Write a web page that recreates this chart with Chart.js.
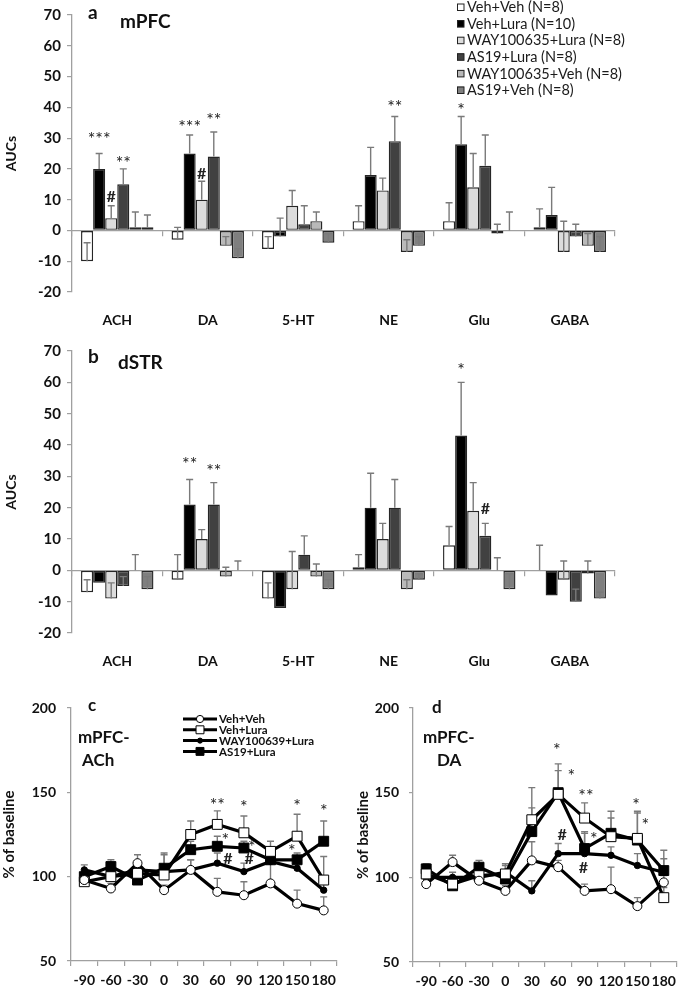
<!DOCTYPE html>
<html>
<head>
<meta charset="utf-8">
<script src="https://cdn.jsdelivr.net/npm/chart.js@4.4.1/dist/chart.umd.min.js"></script>
<style>
  body { margin: 0; background: #fff; }
  #wrap { position: relative; width: 685px; height: 988px; overflow: hidden; }
  canvas { position: absolute; }
  .lbl { position: absolute; font-family: Lato, sans-serif; font-weight: bold; color: #111; white-space: nowrap; line-height: 1; }
</style>
</head>
<body>
<div id="wrap">
  <canvas id="chartA" width="685" height="330" style="left:0;top:0"></canvas>
  <canvas id="chartB" width="685" height="335" style="left:0;top:335px"></canvas>
  <canvas id="chartC" width="345" height="308" style="left:0;top:680px"></canvas>
  <canvas id="chartD" width="340" height="308" style="left:345px;top:680px"></canvas>

  <div class="lbl" style="left:88px;top:2px;font-size:19px">a</div>
  <div class="lbl" style="left:120px;top:11px;font-size:19px">mPFC</div>
  <div class="lbl" style="left:88px;top:346px;font-size:19px">b</div>
  <div class="lbl" style="left:118px;top:352px;font-size:19px">dSTR</div>
  <div class="lbl" style="left:88px;top:696px;font-size:17px">c</div>
  <div class="lbl" style="left:78px;top:728px;font-size:17px">mPFC-</div>
  <div class="lbl" style="left:82px;top:751px;font-size:17px">ACh</div>
  <div class="lbl" style="left:432px;top:698px;font-size:17px">d</div>
  <div class="lbl" style="left:423px;top:728px;font-size:17px">mPFC-</div>
  <div class="lbl" style="left:437px;top:751px;font-size:17px">DA</div>
</div>
<script>
// ---- panel a / b : AUCs per transmitter ----
const transmitters = ['ACH', 'DA', '5-HT', 'NE', 'Glu', 'GABA'];
const groups = ['Veh+Veh (N=8)', 'Veh+Lura (N=10)', 'WAY100635+Lura (N=8)', 'AS19+Lura (N=8)', 'WAY100635+Veh (N=8)', 'AS19+Veh (N=8)'];
const barColors = ['#ffffff', '#000000', '#dcdcdc', '#414141', '#b9b9b9', '#7f7f7f'];

const mpfcAuc = [
  [-10, -3, -6, 3, 3, 1],
  [20, 25, -2, 18, 28, 5],
  [4, 10, 8, 13, 14, -7],
  [15, 24, 2, 29, 21, -2],
  [1, -5, 3, -7, -1, -5],
  [1, -9, -4, -5, 0, -7]
];
const mpfcErr = [
  [6, 4, 4, 5, 6, 6],
  [5, 6, 6, 9, 9, 9],
  [4, 6, 5, 4, 11, 10],
  [5, 8, 6, 8, 10, 4],
  [5, 3, 3, 4, 3, 4],
  [4, 3, 3, 3, 6, 5]
];
// [group, transmitter, y, text]
const mpfcMarks = [
  [1, 0, 31, '***'], [2, 0, 11, '#'], [3, 0, 23, '**'],
  [1, 1, 35, '***'], [2, 1, 18.5, '#'], [3, 1, 37, '**'],
  [3, 3, 41.5, '**'], [1, 4, 40.5, '*']
];

const dstrAuc = [
  [-7, -3, -9, 1, 8, 0],
  [-4, 21, -12, 20, 43, -8],
  [-9, 10, -6, 10, 19, -3],
  [-5, 21, 5, 20, 11, -10],
  [0, -2, -2, -6, 0, -1],
  [-6, 0, -6, -3, -6, -9]
];
const dstrErr = [
  [4, 8, 5, 4, 6, 8],
  [0, 8, 0, 11, 17, 0],
  [5, 3, 12, 5, 9, 6],
  [3, 7, 6, 9, 4, 4],
  [5, 3, 4, 3, 4, 4],
  [4, 3, 3, 2, 5, 2]
];
const dstrMarks = [
  [1, 1, 35, '**'], [3, 1, 33, '**'],
  [1, 4, 65, '*'], [3, 4, 19.5, '#']
];

// ---- panel c / d : time course, % of baseline ----
const timeLabels = ['-90', '-60', '-30', '0', '30', '60', '90', '120', '150', '180'];
const lineGroups = ['Veh+Veh', 'Veh+Lura', 'WAY100639+Lura', 'AS19+Lura'];

const achMean = [
  [98, 93, 108, 92, 104, 91, 89, 96, 84, 80],
  [97, 100, 102, 101, 125, 131, 126, 115, 124, 98],
  [104, 100, 104, 103, 104, 108, 103, 109, 105, 92],
  [100, 106, 98, 105, 116, 118, 117, 110, 110, 121]
];
const achErr = [
  [3, 3, 5, 3, 6, 8, 8, 14, 8, 8],
  [4, 4, 4, 13, 8, 8, 10, 6, 13, 14],
  [3, 3, 3, 3, 6, 6, 5, 3, 4, 4],
  [3, 4, 4, 8, 5, 6, 4, 4, 4, 12]
];
// [x position in category units, y, text]
const achMarks = [
  [5, 144.5, '**'], [6, 143.5, '*'], [8, 144, '*'], [9, 141, '*'],
  [5.3, 124, '*'], [6.3, 120, '*'], [7.8, 117.5, '*'],
  [5.4, 110.5, '#'], [6.2, 110.5, '#']
];

const daMean = [
  [96, 109, 98, 92, 110, 106, 92, 93, 83, 97],
  [102, 96, 101, 102, 134, 149, 135, 124, 123, 88],
  [100, 100, 100, 103, 92, 114, 114, 113, 107, 103],
  [105, 95, 106, 99, 127, 150, 117, 126, 122, 104]
];
const daErr = [
  [3, 4, 3, 3, 11, 4, 4, 13, 5, 4],
  [3, 3, 3, 5, 19, 14, 9, 11, 16, 6],
  [3, 3, 3, 5, 6, 6, 12, 5, 7, 8],
  [3, 3, 4, 4, 14, 17, 10, 13, 16, 12]
];
const daMarks = [
  [4.95, 177.5, '*'], [5.5, 162, '*'], [6.05, 150, '**'], [6.35, 125, '*'],
  [5.15, 125, '#'], [5.95, 105.5, '#'], [7.95, 145, '*'], [8.3, 133, '*']
];

Chart.defaults.font.family = 'Lato, sans-serif';
Chart.defaults.color = '#111';

const AXIS = '#a0a0a0';

// error whiskers, drawn upward only like the original figure
const errorBars = {
  id: 'errorBars',
  draw(chart) {
    const ctx = chart.ctx, ys = chart.scales.y;
    ctx.save();
    ctx.strokeStyle = '#7a7a7a';
    ctx.lineWidth = 1.4;
    chart.data.datasets.forEach((ds, di) => {
      if (!ds.errors) return;
      chart.getDatasetMeta(di).data.forEach((el, i) => {
        const e = ds.errors[i];
        if (!e) return;
        const y0 = ys.getPixelForValue(ds.data[i]);
        const y1 = ys.getPixelForValue(ds.data[i] + e);
        ctx.beginPath();
        ctx.moveTo(el.x, y0); ctx.lineTo(el.x, y1);
        ctx.moveTo(el.x - 3.5, y1); ctx.lineTo(el.x + 3.5, y1);
        ctx.stroke();
      });
    });
    ctx.restore();
  },
  beforeDatasetsDraw(chart, args, o) { if (!o.front) this.draw(chart); },
  afterDatasetsDraw(chart, args, o) { if (o.front) this.draw(chart); }
};

// significance marks (* and #)
const sigMarks = {
  id: 'sigMarks',
  afterDatasetsDraw(chart, args, o) {
    if (!o.items) return;
    const ctx = chart.ctx, ys = chart.scales.y, xs = chart.scales.x;
    ctx.save();
    ctx.fillStyle = '#222';
    ctx.textAlign = 'center';
    ctx.textBaseline = 'middle';
    o.items.forEach(m => {
      let x, y, t;
      if (o.bars) {
        x = chart.getDatasetMeta(m[0]).data[m[1]].x; y = m[2]; t = m[3];
      } else {
        x = xs.getPixelForValue(m[0]); y = m[1]; t = m[2];
      }
      const star = t.indexOf('*') >= 0;
      ctx.font = star ? '18px Lato' : 'bold 16px Lato';
      ctx.fillText(t, x, ys.getPixelForValue(y) + (star ? 4 : 0));
    });
    ctx.restore();
  }
};

const barLegend = {
  id: 'barLegend',
  afterDraw(chart, args, o) {
    if (!o.show) return;
    const ctx = chart.ctx;
    ctx.save();
    ctx.font = '14.5px Lato';
    ctx.textBaseline = 'middle';
    chart.data.datasets.forEach((ds, i) => {
      const y = o.y + i * o.gap;
      ctx.fillStyle = ds.backgroundColor;
      ctx.fillRect(o.x, y - 3.5, 7, 7);
      ctx.strokeStyle = '#222';
      ctx.lineWidth = 1;
      ctx.strokeRect(o.x + 0.5, y - 3, 6.5, 6.5);
      ctx.fillStyle = '#1a1a1a';
      ctx.fillText(ds.label, o.x + 10, y + 0.5);
    });
    ctx.restore();
  }
};

const lineLegend = {
  id: 'lineLegend',
  afterDraw(chart, args, o) {
    if (!o.show) return;
    const ctx = chart.ctx;
    ctx.save();
    ctx.textBaseline = 'middle';
    chart.data.datasets.forEach((ds, i) => {
      const y = o.y + i * o.gap, x0 = o.x, x1 = o.x + 34, cx = (x0 + x1) / 2;
      ctx.strokeStyle = '#000';
      ctx.lineWidth = 3;
      ctx.beginPath(); ctx.moveTo(x0, y); ctx.lineTo(x1, y); ctx.stroke();
      ctx.fillStyle = ds.pointBackgroundColor;
      ctx.lineWidth = 1;
      ctx.beginPath();
      if (ds.pointStyle === 'rect') {
        const s = ds.pointRadius * Math.SQRT1_2 * 0.8;
        ctx.rect(cx - s, y - s, 2 * s, 2 * s);
      } else {
        ctx.arc(cx, y, ds.pointRadius * 0.8, 0, Math.PI * 2);
      }
      ctx.fill(); ctx.stroke();
      ctx.fillStyle = '#111';
      ctx.font = 'bold 11.5px Lato';
      ctx.fillText(ds.label, x1 + 2, y + 0.5);
    });
    ctx.restore();
  }
};

function makeBarChart(id, values, errors, marks, box, showLegend) {
  return new Chart(document.getElementById(id), {
    type: 'bar',
    data: {
      labels: transmitters,
      datasets: groups.map((g, k) => ({
        label: g,
        data: values[k],
        errors: errors[k],
        backgroundColor: barColors[k],
        borderColor: '#262626',
        borderWidth: 1.4,
        borderSkipped: false,
        categoryPercentage: 0.8,
        barPercentage: 1
      }))
    },
    options: {
      responsive: false,
      animation: false,
      layout: { padding: { top: box.top, right: box.right, left: 0, bottom: 0 } },
      scales: {
        x: {
          grid: { display: false },
          border: { display: false },
          ticks: { font: { size: 14, weight: 'bold' }, padding: 12, color: '#111' },
          afterFit: s => { s.height = box.xh; }
        },
        x2: {
          type: 'category',
          offset: true,
          position: { y: 0 },
          grid: { offset: true, drawOnChartArea: false, tickLength: 5, color: AXIS, lineWidth: 1.2 },
          border: { color: AXIS, width: 1.3 },
          ticks: { display: false },
          afterFit: s => { s.height = 0; }
        },
        y: {
          min: -20, max: 70,
          ticks: { stepSize: 10, font: { size: 15, weight: 'bold' }, padding: 6, color: '#111' },
          grid: { drawOnChartArea: false, tickLength: 5, color: AXIS, lineWidth: 1.2 },
          border: { color: AXIS, width: 1.3 },
          title: { display: true, text: 'AUCs', font: { size: 14, weight: 'bold' }, padding: { top: 3 }, color: '#111' },
          afterFit: s => { s.width = 72; }
        }
      },
      plugins: {
        legend: { display: false },
        tooltip: { enabled: false },
        errorBars: { front: true },
        sigMarks: { items: marks, bars: true },
        barLegend: { show: showLegend, x: 457, y: 7, gap: 16.6 }
      }
    },
    plugins: [errorBars, sigMarks, barLegend]
  });
}

const pointStyles = ['circle', 'rect', 'circle', 'rect'];
const pointRadii = [4.5, 7, 3.2, 7];
const pointFills = ['#ffffff', '#ffffff', '#000000', '#000000'];

function makeLineChart(id, means, errors, marks, box, showLegend) {
  return new Chart(document.getElementById(id), {
    type: 'line',
    data: {
      labels: timeLabels,
      datasets: lineGroups.map((g, k) => ({
        label: g,
        data: means[k],
        errors: errors[k],
        borderColor: '#000',
        borderWidth: 3.2,
        tension: 0,
        pointStyle: pointStyles[k],
        pointRadius: pointRadii[k],
        pointBackgroundColor: pointFills[k],
        pointBorderColor: '#000',
        pointBorderWidth: 1
      }))
    },
    options: {
      responsive: false,
      animation: false,
      layout: { padding: { top: box.top, right: box.right, left: 0, bottom: 0 } },
      scales: {
        x: {
          offset: true,
          grid: { offset: true, drawOnChartArea: false, tickLength: 5, color: AXIS, lineWidth: 1.2 },
          border: { color: AXIS, width: 1.3 },
          ticks: { font: { size: 14, weight: 'bold' }, padding: 6, autoSkip: false, maxRotation: 0, color: '#111' },
          afterFit: s => { s.height = box.xh; }
        },
        y: {
          min: 50, max: 200,
          ticks: { stepSize: 50, font: { size: 14, weight: 'bold' }, padding: box.tp, color: '#111' },
          grid: { drawOnChartArea: false, tickLength: 4, color: AXIS, lineWidth: 1.2 },
          border: { color: AXIS, width: 1.3 },
          title: { display: true, text: '% of baseline', font: { size: 15, weight: 'bold' }, padding: { top: box.titlePad }, color: '#111' },
          afterFit: s => { s.width = box.yw; }
        }
      },
      plugins: {
        legend: { display: false },
        tooltip: { enabled: false },
        errorBars: { front: false },
        sigMarks: { items: marks, bars: false },
        lineLegend: { show: showLegend, x: 183, y: 39, gap: 10.8 }
      }
    },
    plugins: [errorBars, sigMarks, lineLegend]
  });
}

makeBarChart('chartA', mpfcAuc, mpfcErr, mpfcMarks, { top: 10, right: 70, xh: 38 }, true);
makeBarChart('chartB', dstrAuc, dstrErr, dstrMarks, { top: 16, right: 70, xh: 37 }, false);
makeLineChart('chartC', achMean, achErr, achMarks, { top: 28, right: 7, xh: 27, yw: 71, tp: 11, titlePad: 0 }, true);
makeLineChart('chartD', daMean, daErr, daMarks, { top: 28, right: 2, xh: 26, yw: 68, tp: 10, titlePad: 9 }, false);
</script>
</body>
</html>
